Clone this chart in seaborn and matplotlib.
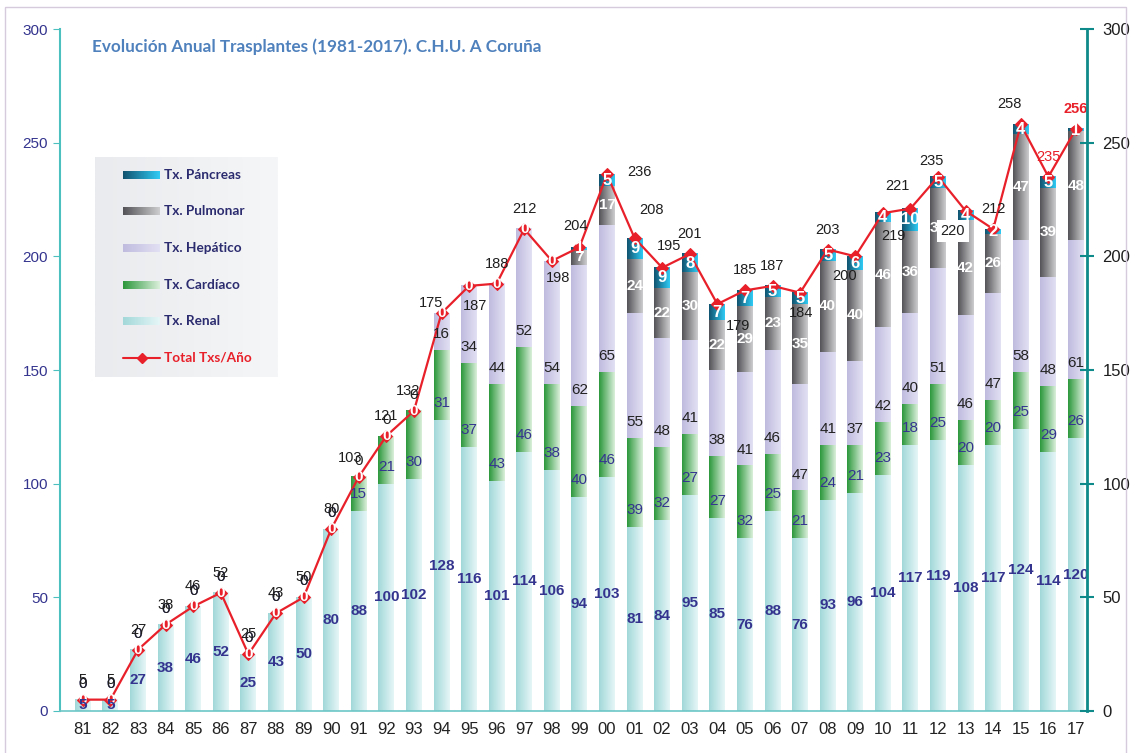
import numpy as np
import matplotlib
matplotlib.use('Agg')
import matplotlib.pyplot as plt
import seaborn as sns
from matplotlib.colors import LinearSegmentedColormap
from matplotlib.patches import Rectangle

years = ['81', '82', '83', '84', '85', '86', '87', '88', '89', '90',
         '91', '92', '93', '94', '95', '96', '97', '98', '99', '00',
         '01', '02', '03', '04', '05', '06', '07', '08', '09', '10',
         '11', '12', '13', '14', '15', '16', '17']
renal = [5, 5, 27, 38, 46, 52, 25, 43, 50, 80,
         88, 100, 102, 128, 116, 101, 114, 106, 94, 103,
         81, 84, 95, 85, 76, 88, 76, 93, 96, 104,
         117, 119, 108, 117, 124, 114, 120]
cardiaco = [0, 0, 0, 0, 0, 0, 0, 0, 0, 0,
            15, 21, 30, 31, 37, 43, 46, 38, 40, 46,
            39, 32, 27, 27, 32, 25, 21, 24, 21, 23,
            18, 25, 20, 20, 25, 29, 26]
hepatico = [0, 0, 0, 0, 0, 0, 0, 0, 0, 0,
            0, 0, 0, 16, 34, 44, 52, 54, 62, 65,
            55, 48, 41, 38, 41, 46, 47, 41, 37, 42,
            40, 51, 46, 47, 58, 48, 61]
pulmonar = [0, 0, 0, 0, 0, 0, 0, 0, 0, 0,
            0, 0, 0, 0, 0, 0, 0, 0, 7, 17,
            24, 22, 30, 22, 29, 23, 35, 40, 40, 46,
            36, 35, 42, 26, 47, 39, 48]
pancreas = [0, 0, 0, 0, 0, 0, 0, 0, 0, 0,
            0, 0, 0, 0, 0, 0, 0, 0, 1, 5,
            9, 9, 8, 7, 7, 5, 5, 5, 6, 4,
            10, 5, 4, 2, 4, 5, 1]
total = [5, 5, 27, 38, 46, 52, 25, 43, 50, 80,
         103, 121, 132, 175, 187, 188, 212, 198, 204, 236,
         208, 195, 201, 179, 185, 187, 184, 203, 200, 219,
         221, 235, 220, 212, 258, 235, 256]
legend_names = ['Tx. Páncreas', 'Tx. Pulmonar', 'Tx. Hepático', 'Tx. Cardíaco', 'Tx. Renal']

sns.set_style('white')
plt.rcParams['font.family'] = ['Liberation Sans', 'DejaVu Sans']

NAVY = '#34348f'
RED = '#e8202a'


def grad_img(ax, x0, x1, y0, y1, c0, c1, z):
    cmap = LinearSegmentedColormap.from_list('g', [c0, c1])
    ax.imshow(np.linspace(0, 1, 64)[None, :], cmap=cmap, extent=(x0, x1, y0, y1),
              aspect='auto', interpolation='bilinear', zorder=z)


fig = plt.figure(figsize=(11.3, 7.53), dpi=100)
ax = fig.add_axes([60 / 1130, 42 / 753, 1027 / 1130, 682 / 753])

layers = [
    (renal, '#a2d8d9', '#e6f6f7'),
    (cardiaco, '#2c983c', '#daefda'),
    (hepatico, '#bfbbdf', '#e2e0f3'),
    (pulmonar, '#545458', '#cdcdcf'),
    (pancreas, '#11536f', '#2fcbf5'),
]

bottom = np.zeros(len(years))
bottoms = []
for vals, c0, c1 in layers:
    n0 = len(ax.patches)
    sns.barplot(x=years, y=vals, bottom=bottom, color=c1, width=0.58,
                errorbar=None, saturation=1, ax=ax)
    for p in ax.patches[n0:]:
        if p.get_height() > 0:
            grad_img(ax, p.get_x(), p.get_x() + p.get_width(), p.get_y(),
                     p.get_y() + p.get_height(), c0, c1, 2)
        p.set_visible(False)
    bottoms.append(bottom.copy())
    bottom = bottom + np.array(vals)

xs = np.arange(len(years))
sns.lineplot(x=xs, y=total, color=RED, lw=1.6, marker='D', markersize=6,
             markeredgecolor=RED, sort=False, ax=ax, zorder=5)

# segment labels
lab_kw = dict(ha='center', va='center', zorder=6, fontsize=11)
for i in xs:
    b_r, b_c, b_h, b_p, b_x = [b[i] for b in bottoms]
    if pulmonar[i] == 0:
        ax.text(i, b_x, '0', color='white', fontweight='bold', **lab_kw)
    else:
        ax.text(i, b_p + pulmonar[i] / 2, str(pulmonar[i]), color='white',
                fontweight='bold', **lab_kw)
        ax.text(i, b_x + pancreas[i] / 2, str(pancreas[i]), color='white',
                fontweight='bold', ha='center', va='center', zorder=6, fontsize=12)
    if cardiaco[i] == 0:
        ax.text(i, b_c + 7, '0', color=NAVY, **lab_kw)
    else:
        ax.text(i, b_c + 7.5, str(cardiaco[i]), color=NAVY, **lab_kw)
    ax.text(i, b_h + 7, str(hepatico[i]), color='#222222', **lab_kw)
    ax.text(i, renal[i] / 2, str(renal[i]), color=NAVY, fontweight='bold', **lab_kw)

# total labels (offsets in pixels)
offsets = {13: (-10, 10), 14: (6, -20), 17: (6, -17), 18: (-4, 21), 19: (32, 2),
           20: (17, 28), 21: (7, 22), 23: (21, -22), 26: (1, -20), 28: (-11, -20),
           29: (11, -23), 30: (-13, 23), 31: (-7, 16), 32: (-13, -20), 34: (-11, 20),
           10: (-9, 19), 12: (-6, 20)}
for i in xs:
    dx, dy = offsets.get(i, (0, 20))
    kw = dict(color='#1e1e1e', fontsize=10.5)
    if i == 35:
        kw = dict(color=RED, fontsize=10.5)
    if i == 36:
        kw = dict(color=RED, fontsize=10.5, fontweight='bold')
    if i == 32:
        kw['bbox'] = dict(boxstyle='square,pad=0.25', fc='white', ec='none')
    ax.annotate(str(total[i]), (i, total[i]), xytext=(dx, dy), textcoords='offset pixels',
                ha='center', va='center', zorder=7, **kw)

ax.set_xlim(-0.83, 36.4)
ax.set_ylim(0, 300)
ax.set_yticks(range(0, 301, 50))
ax.set_xlabel('')
ax.set_ylabel('')
ax.set_xticks(xs)
ax.set_xticklabels(years)
ax.set_xticks(np.arange(-0.5, 36.5, 1), minor=True)
ax.tick_params(axis='x', which='major', length=0, labelsize=12, labelcolor='#222222', pad=8)
ax.tick_params(axis='x', which='minor', length=5, color='#8fd0d0', width=1)
ax.tick_params(axis='y', length=5, color='#4cbfbf', labelcolor=NAVY, labelsize=11, left=True)
for s in ['top', 'right']:
    ax.spines[s].set_visible(False)
ax.spines['left'].set_color('#4cbfbf')
ax.spines['left'].set_linewidth(1.5)
ax.spines['bottom'].set_color('#6cc6c6')
ax.spines['bottom'].set_linewidth(1.2)

ax2 = ax.twinx()
ax2.set_ylim(0, 300)
ax2.set_yticks(range(0, 301, 50))
ax2.tick_params(axis='y', direction='inout', length=10, width=1.5, color='#0f8a8a',
                labelsize=12, labelcolor='#1e1e1e', pad=6, right=True)
for s in ['top', 'left', 'bottom']:
    ax2.spines[s].set_visible(False)
ax2.spines['right'].set_color('#0f8a8a')
ax2.spines['right'].set_linewidth(2)

fig.text(92 / 1130, 1 - 47 / 753, 'Evolución Anual Trasplantes (1981-2017). C.H.U. A Coruña',
         fontsize=12.3, fontweight='bold', color='#4f81bd', family=['Lato', 'DejaVu Sans'],
         va='center')

# legend box
lg = fig.add_axes([95 / 1130, 1 - 377 / 753, 183 / 1130, 220 / 753])
lg.axis('off')
grad_img(lg, 0, 183, 220, 0, '#e9ebee', '#f5f6f7', 0)
lg.set_xlim(0, 183)
lg.set_ylim(220, 0)
entry_y = [18, 54, 91, 128, 164]
for (vals, c0, c1), name, yy in zip(layers[::-1], legend_names, entry_y):
    grad_img(lg, 28, 65, yy + 4, yy - 4, c0, c1, 2)
    lg.text(69, yy, name, fontsize=9.8, fontweight='bold', color='#2b2b6f',
            family=['Lato', 'DejaVu Sans'], va='center', ha='left')
lg.plot([28, 65], [201, 201], color=RED, lw=1.5, zorder=3)
lg.plot([46.5], [201], marker='D', ms=5, color=RED, zorder=4)
lg.text(69, 201, 'Total Txs/Año', fontsize=9.8, fontweight='bold', color=RED,
        family=['Lato', 'DejaVu Sans'], va='center', ha='left')
lg.set_xlim(0, 183)
lg.set_ylim(220, 0)

fig.patches.append(Rectangle((5 / 1130, -0.05), 1121 / 1130, (753 - 7) / 753 + 0.05,
                             transform=fig.transFigure, fill=False, ec='#d6cadd', lw=1))

fig.savefig('out.png', dpi=100)
